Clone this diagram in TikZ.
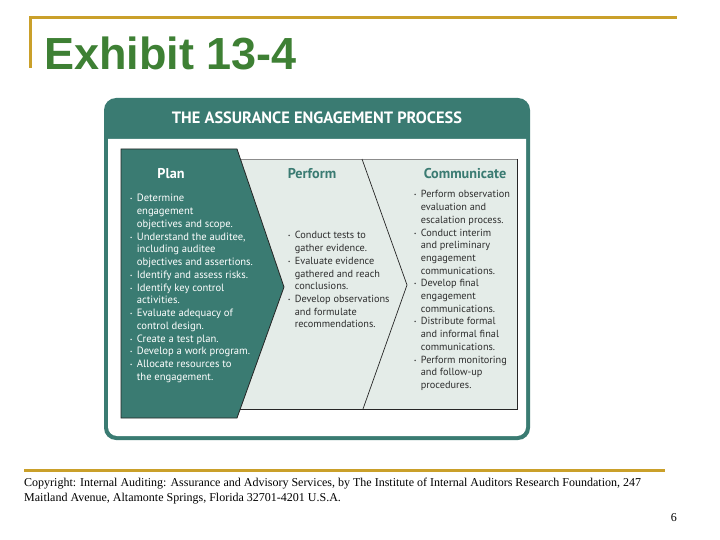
\documentclass[tikz,border=0pt]{standalone}
\usepackage{fontspec}
\setmainfont{Liberation Serif}
\newfontfamily\exhibitfont{Liberation Sans}
\newfontfamily\procfont{PT Sans}

\definecolor{exgreen}{RGB}{62,128,52}
\definecolor{rulegold}{RGB}{202,160,42}
\definecolor{procteal}{RGB}{58,123,114}
\definecolor{stagegrey}{RGB}{228,236,232}
\definecolor{bodytext}{RGB}{45,45,45}

\newcommand{\stepdot}{\raisebox{0.2ex}{\fontsize{5}{5}\selectfont\textbullet}}

\tikzset{
  stagehead/.style={font=\procfont\fontsize{14.2}{16}\selectfont\bfseries,
    anchor=base, inner sep=0pt},
  steplist/.style={font=\procfont\fontsize{10.3}{12.7}\selectfont,
    anchor=base west, inner sep=0pt},
}

\begin{document}
\begin{tikzpicture}[
  x={(1pt,0pt)}, y={(0pt,-1pt)},
  line join=miter
]
\useasboundingbox (0,0) rectangle (720,540);

% ── Slide frame: gold rules and heading ─────────────────────────
\draw[rulegold, line width=3pt] (30,68)--(30,18)--(677,18);
\draw[rulegold, line width=3pt] (24,470)--(665,470);
\node[anchor=base west, inner sep=0pt, text=exgreen,
  font=\exhibitfont\fontsize{45}{45}\selectfont\bfseries]
  (exhibit) at (44,70) {Exhibit 13-4};

% ── Process panel: teal card, white body ───────────────────────
\fill[procteal, rounded corners=12pt] (104,98) rectangle (530,440);
\fill[white] (108,139)--(526,139) [rounded corners=9pt] --(526,436)--(108,436)
  [sharp corners] --cycle;
\node[anchor=base, inner sep=0pt, text=white,
  font=\procfont\fontsize{16.4}{18}\selectfont\bfseries]
  (assurtitle) at (317,124) {THE ASSURANCE ENGAGEMENT PROCESS};

% ── Stage band: grey field, Plan chevron, divider ──────────────
\fill[stagegrey] (230,159) rectangle (517,409);
\draw[black!45, line width=0.8pt] (230,159)--(517,159);
\draw[black!85, line width=0.8pt] (517,159)--(517,409)--(230,409);
\filldraw[fill=procteal, draw=black!85, line width=0.8pt]
  (121,149)--(237,149)--(284,287)--(237,418)--(121,418)--cycle;
\draw[black!85, line width=0.7pt] (362,159)--(407,285)--(363,409);

% ── Stage headings ─────────────────────────────────────────────
\node[stagehead, text=white]    (planhead)    at (171,179) {Plan};
\node[stagehead, text=procteal] (performhead) at (312,179) {Perform};
\node[stagehead, text=procteal] (commhead)    at (465,179) {Communicate};

% ── Stage steps ────────────────────────────────────────────────
\node[steplist, text=white, font=\procfont\fontsize{10.6}{12.75}\selectfont]
  (planlist) at (130,202) {%
  \begin{tabular}[t]{@{}l@{\hspace{4.4pt}}l@{}}
  \stepdot & Determine\\
           & engagement\\
           & objectives and scope.\\
  \stepdot & Understand the auditee,\\
           & including auditee\\
           & objectives and assertions.\\
  \stepdot & Identify and assess risks.\\
  \stepdot & Identify key control\\
           & activities.\\
  \stepdot & Evaluate adequacy of\\
           & control design.\\
  \stepdot & Create a test plan.\\
  \stepdot & Develop a work program.\\
  \stepdot & Allocate resources to\\
           & the engagement.
  \end{tabular}};

\node[steplist, text=bodytext] (performlist) at (288,239) {%
  \begin{tabular}[t]{@{}l@{\hspace{4.4pt}}l@{}}
  \stepdot & Conduct tests to\\
           & gather evidence.\\
  \stepdot & Evaluate evidence\\
           & gathered and reach\\
           & conclusions.\\
  \stepdot & Develop observations\\
           & and formulate\\
           & recommendations.
  \end{tabular}};

\node[steplist, text=bodytext] (commlist) at (414,198) {%
  \begin{tabular}[t]{@{}l@{\hspace{4.4pt}}l@{}}
  \stepdot & Perform observation\\
           & evaluation and\\
           & escalation process.\\
  \stepdot & Conduct interim\\
           & and preliminary\\
           & engagement\\
           & communications.\\
  \stepdot & Develop final\\
           & engagement\\
           & communications.\\
  \stepdot & Distribute formal\\
           & and informal final\\
           & communications.\\
  \stepdot & Perform monitoring\\
           & and follow-up\\
           & procedures.
  \end{tabular}};

% ── Source note and page number ────────────────────────────────
\node[anchor=base west, inner sep=0pt, align=left,
  font=\fontsize{12}{14.5}\selectfont] (copyright) at (24,501)
  {Copyright: Internal Auditing: Assurance and Advisory Services, by The Institute of Internal Auditors Research Foundation, 247\\
   Maitland Avenue, Altamonte Springs, Florida 32701-4201 U.S.A.};
\node[anchor=base east, inner sep=0pt, font=\fontsize{12}{12}\selectfont]
  (pagenum) at (677,521) {6};

\end{tikzpicture}
\end{document}
